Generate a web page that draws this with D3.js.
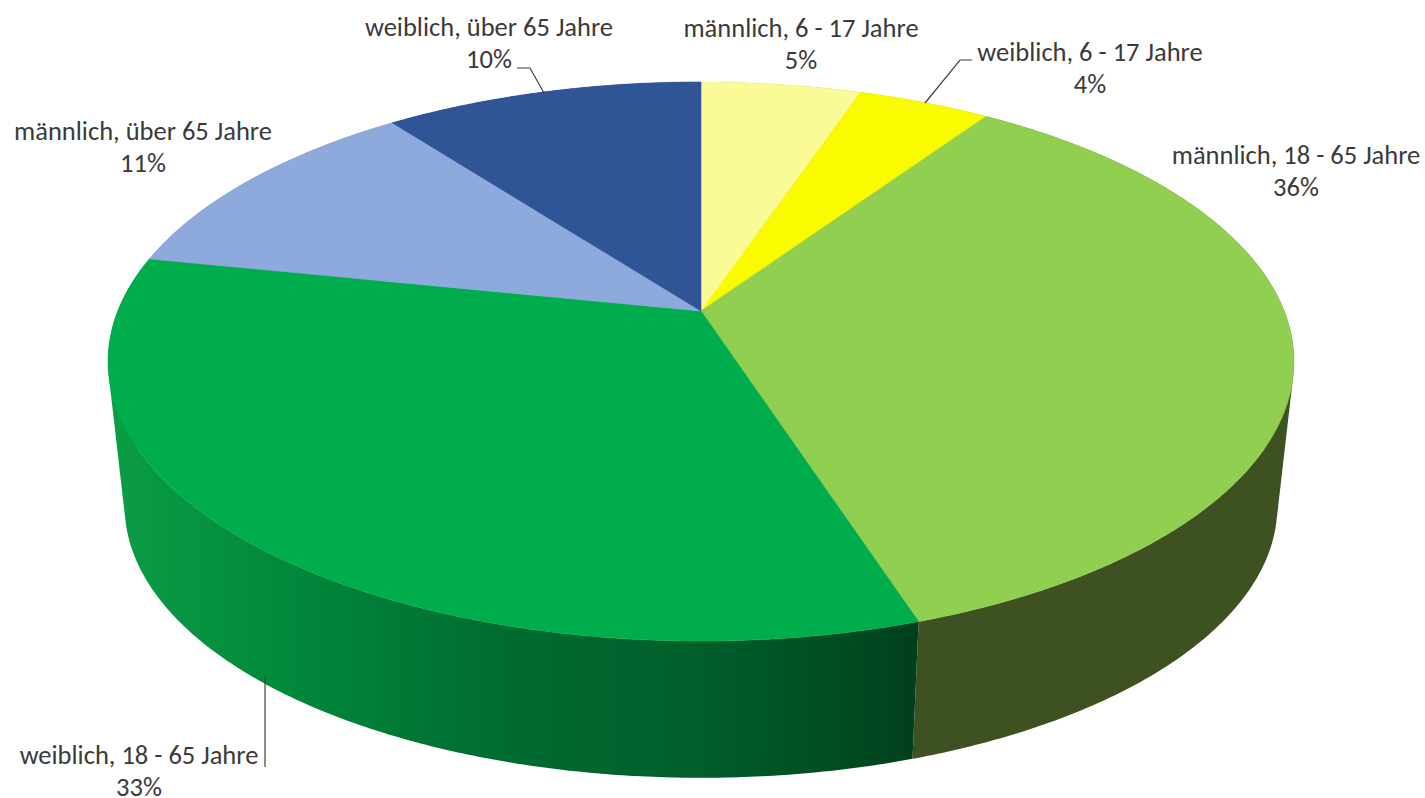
<!DOCTYPE html>
<html>
<head>
<meta charset="utf-8">
<script src="https://cdnjs.cloudflare.com/ajax/libs/d3/7.8.5/d3.min.js"></script>
<style>
  html, body { margin: 0; padding: 0; background: #fff; overflow: hidden; }
  text { font-family: Carlito, Lato, "Open Sans", sans-serif; fill: #3a3a3a; }
</style>
</head>
<body>
<svg id="viz"></svg>
<script>
const width = 1425, height = 798;

// values
const categories = ["männlich, 6 - 17 Jahre", "weiblich, 6 - 17 Jahre", "männlich, 18 - 65 Jahre",
                    "weiblich, 18 - 65 Jahre", "männlich, über 65 Jahre", "weiblich, über 65 Jahre"];
const shares = [5.2, 4.3, 35.5, 33.2, 11.45, 10.35];
const percentLabels = ["5%", "4%", "36%", "33%", "11%", "10%"];
const topColors = ["#fafa96", "#fafa00", "#90cf50", "#00ad4d", "#8ea9db", "#2f5597"];
const sideColors = ["#8f8f55", "#8f8f00", "#3d5220", "url(#greenSide)", "#52627f", "#1b3157"];

// label placement: [x centre, y of first line]
const labelPos = [[801, 37], [1090, 61], [1296, 164], [139, 764], [143, 140], [489, 36]];
const leaders = [
  [[517, 68], [530, 68], [544, 93]],
  [[972, 60], [960, 60], [925, 103]],
  [[265, 677], [265, 767]]
];

const svg = d3.select("#viz").attr("width", width).attr("height", height);

// gradient on the front of the big green slice
const grad = svg.append("defs").append("linearGradient")
  .attr("id", "greenSide")
  .attr("gradientUnits", "userSpaceOnUse")
  .attr("x1", 115).attr("x2", 918).attr("y1", 0).attr("y2", 0);
[[0, "#0b9c46"], [0.25, "#00853a"], [0.48, "#006c30"], [0.73, "#005e2b"], [0.91, "#004b21"], [1, "#00401c"]]
  .forEach(s => grad.append("stop").attr("offset", s[0]).attr("stop-color", s[1]));

// tilted disc: perspective projection of the unit circle
const persp = -0.1807, scaleX = 583.2, scaleY = 270.4, centerX = 701;
function project(angle, radius, centerY, s) {
  const u = radius * Math.sin(angle), v = -radius * Math.cos(angle);
  const den = 1 + persp * v;
  return [centerX + s * scaleX * u / den, centerY + s * scaleY * v / den];
}
const topPoint = (a, r) => project(a, r, 311, 1);
const bottomPoint = a => project(a, 1, 457, 0.972);

const slices = d3.pie().sort(null).value(d => d)(shares);
const line = d3.line();
const step = Math.PI / 360;

function anglesOf(d) {
  const list = d3.range(d.startAngle, d.endAngle, step);
  list.push(d.endAngle);
  return list;
}

// side walls, one strip per angle step
// strips fold over at the silhouette, so keep them all wound the same way or they cancel out
svg.append("g").selectAll("path")
  .data(slices)
  .enter()
  .append("path")
  .attr("fill", (d, i) => sideColors[i])
  .attr("d", d => {
    const a = anglesOf(d);
    let out = "";
    for (let k = 0; k < a.length - 1; k++) {
      const quad = [topPoint(a[k], 1), topPoint(a[k + 1], 1), bottomPoint(a[k + 1]), bottomPoint(a[k])];
      if (d3.polygonArea(quad) < 0) quad.reverse();
      out += line(quad) + "Z";
    }
    return out;
  });

// top faces
svg.append("g").selectAll("path")
  .data(slices)
  .enter()
  .append("path")
  .attr("fill", (d, i) => topColors[i])
  .attr("stroke", (d, i) => topColors[i])
  .attr("stroke-width", 0.6)
  .attr("d", d => {
    const rim = anglesOf(d).map(a => topPoint(a, 1));
    return line([topPoint(0, 0), ...rim]) + "Z";
  });

// leader lines
svg.append("g").selectAll("path")
  .data(leaders)
  .enter()
  .append("path")
  .attr("fill", "none")
  .attr("stroke", "#404040")
  .attr("stroke-width", 1.2)
  .attr("d", d => line(d));

// labels
const labels = svg.append("g").selectAll("text")
  .data(categories)
  .enter()
  .append("text")
  .attr("text-anchor", "middle")
  .attr("font-size", 26.5);
labels.append("tspan")
  .attr("x", (d, i) => labelPos[i][0])
  .attr("y", (d, i) => labelPos[i][1])
  .text(d => d);
labels.append("tspan")
  .attr("x", (d, i) => labelPos[i][0])
  .attr("y", (d, i) => labelPos[i][1] + 32)
  .text((d, i) => percentLabels[i]);
</script>
</body>
</html>
